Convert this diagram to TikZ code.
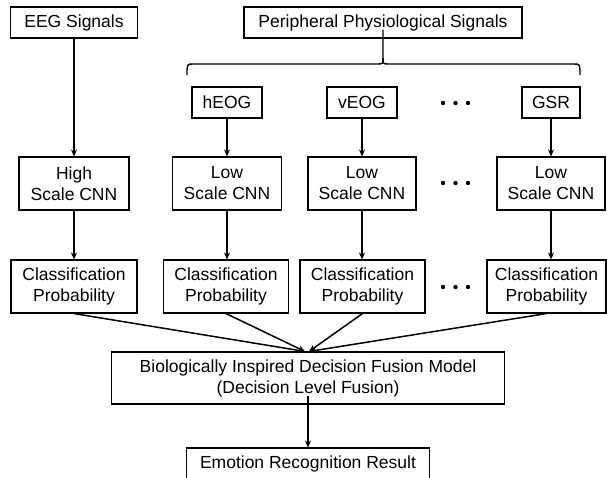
\documentclass[tikz,border=0pt]{standalone}
\usepackage{fontspec}
\setmainfont{Liberation Sans}
\usetikzlibrary{arrows.meta}
\begin{document}
\begin{tikzpicture}[x=1pt,y=-1pt,
  box/.style={draw=black,line width=1.1pt,inner sep=0pt,align=center,font=\fontsize{17.5}{21}\selectfont},
  arr/.style={line width=1.5pt,-{Stealth[length=7pt,width=6pt]}},
  brc/.style={line width=1.4pt},
  dot/.style={fill=black}]
\useasboundingbox (0,0) rectangle (607,477);
% top row
\node[box,minimum width=127pt,minimum height=31pt] (eeg) at (74,22.5) {EEG Signals};
\node[box,minimum width=278pt,minimum height=31pt] (per) at (383,22.5) {Peripheral Physiological Signals};
% signals
\node[box,minimum width=70pt,minimum height=31pt] (heog) at (227,102.5) {hEOG};
\node[box,minimum width=70pt,minimum height=31pt] (veog) at (362,102.5) {vEOG};
\node[box,minimum width=58pt,minimum height=31pt] (gsr) at (551,102.5) {GSR};
% CNNs
\node[box,minimum width=110pt,minimum height=53pt] (high) at (74,183.5) {High\\Scale CNN};
\node[box,minimum width=109pt,minimum height=53pt] (low1) at (227,183.5) {Low\\Scale CNN};
\node[box,minimum width=108pt,minimum height=53pt] (low2) at (362,183.5) {Low\\Scale CNN};
\node[box,minimum width=108pt,minimum height=53pt] (low4) at (551,183.5) {Low\\Scale CNN};
% classification
\node[box,minimum width=126pt,minimum height=53pt] (cls1) at (74,286.5) {Classification\\Probability};
\node[box,minimum width=125pt,minimum height=53pt] (cls2) at (226,286.5) {Classification\\Probability};
\node[box,minimum width=125pt,minimum height=53pt] (cls3) at (362.5,286.5) {Classification\\Probability};
\node[box,minimum width=119pt,minimum height=53pt] (cls4) at (546.5,286.5) {Classification\\Probability};
% fusion and result
\node[box,minimum width=393pt,minimum height=52pt] (fus) at (308,378) {Biologically Inspired Decision Fusion Model\\(Decision Level Fusion)};
\node[box,minimum width=243pt,minimum height=31pt] (res) at (308,463.5) {Emotion Recognition Result};
% dots
\foreach \y/\n in {103/a,183/b,287/c}{
  \coordinate (dots\n) at (455.5,\y);
  \fill[dot] ([xshift=-12.5pt]dots\n) circle (2.2pt);
  \fill[dot] (dots\n) circle (2.2pt);
  \fill[dot] ([xshift=12.5pt]dots\n) circle (2.2pt);
}
% brace
\coordinate (bt) at ([yshift=9pt]per.south);
\coordinate (bl) at (187,75);
\coordinate (br) at (580,75);
\draw[brc,line join=round] (bl) .. controls (187,64) .. (193,64) -- (377,64) .. controls (383,64) .. (383,58) -- (bt);
\draw[brc,line join=round] (383,58) .. controls (383,64) .. (389,64) -- (574,64) .. controls (580,64) .. (br);
% arrows
\draw[arr] (eeg.south) -- (high.north);
\draw[arr] (heog.south) -- (low1.north);
\draw[arr] (veog.south) -- (low2.north);
\draw[arr] (gsr.south) -- (low4.north);
\draw[arr] (high.south) -- (cls1.north);
\draw[arr] (low1.south) -- (low1.south |- cls2.north);
\draw[arr] (low2.south) -- (low2.south |- cls3.north);
\draw[arr] (low4.south) -- (low4.south |- cls4.north);
\draw[arr] (cls1.south) -- ([xshift=-3pt]fus.north);
\draw[arr] (cls2.south) -- ([xshift=-3pt]fus.north);
\draw[arr] (cls3.south) -- ([xshift=1pt]fus.north);
\draw[arr] (cls4.south) -- ([xshift=1pt]fus.north);
\draw[arr] ([yshift=9pt]fus.south) -- (res.north);
\end{tikzpicture}
\end{document}
